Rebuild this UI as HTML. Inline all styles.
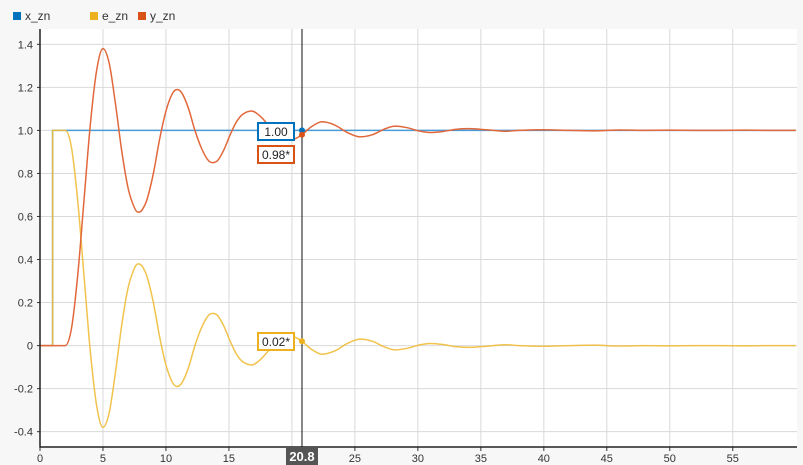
<!DOCTYPE html>
<html><head><meta charset="utf-8"><style>
body{margin:0;background:#f7f7f7;font-family:"Liberation Sans",sans-serif}
svg{display:block}
text{font-family:"Liberation Sans",sans-serif}
</style></head><body>
<svg id="c" width="803" height="465">
<rect x="0" y="0" width="803" height="465" fill="#f7f7f7"/>
<g>
 <rect x="13" y="12" width="8" height="8" fill="#0072bd"/>
 <text x="25" y="20" font-size="12" fill="#333">x_zn</text>
 <rect x="90" y="12" width="8" height="8" fill="#edb120"/>
 <text x="102" y="20" font-size="12" fill="#333">e_zn</text>
 <rect x="138" y="12" width="8" height="8" fill="#d95319"/>
 <text x="150" y="20" font-size="12" fill="#333">y_zn</text>
</g>
<rect x="40" y="29" width="757" height="418" fill="#fff"/>
<g id="grid"></g><g id="series"></g><g id="axes"></g><g id="cursor"></g>
</svg>
<script>
const tTicks=[0,5,10,15,20,25,30,35,40,45,50,55];
const yTicks=[-0.4,-0.2,0,0.2,0.4,0.6,0.8,1.0,1.2,1.4];
const xT=[0,1,1,60];
const xV=[0,0,1,1];
const yT=[0,1,2,2.5,3,3.5,4,4.5,5,5.5,6,6.5,7,7.5,7.8,8.1,8.5,9,9.5,10,10.5,10.9,11.3,11.8,12.3,12.8,13.3,13.7,14.1,14.6,15.1,15.6,16.1,16.8,17.5,18.2,18.9,19.6,20.2,20.8,21.5,22.4,23.4,24.4,25.4,26.4,27.3,28.2,29.2,30.1,31,32,33,34,35,36,37,38,40,42,44,46,48,50,52,54,56,58,60];
const yV=[0,0,0,0.08,0.33,0.68,1.03,1.28,1.38,1.31,1.12,0.9,0.73,0.64,0.62,0.63,0.68,0.8,0.96,1.09,1.17,1.19,1.17,1.1,1.0,0.92,0.865,0.85,0.86,0.91,0.98,1.04,1.075,1.09,1.065,1.02,0.975,0.955,0.96,0.98,1.015,1.04,1.025,0.99,0.97,0.98,1.005,1.02,1.012,0.997,0.99,0.995,1.005,1.008,1.005,1.0,0.996,1.0,1.003,1.0,0.998,1.002,1.0,1.001,1.0,1.0,1.001,1.0,1.0];
const eT=[0,1,1,2,2.5,3,3.5,4,4.5,5,5.5,6,6.5,7,7.5,7.8,8.1,8.5,9,9.5,10,10.5,10.9,11.3,11.8,12.3,12.8,13.3,13.7,14.1,14.6,15.1,15.6,16.1,16.8,17.5,18.2,18.9,19.6,20.2,20.8,21.5,22.4,23.4,24.4,25.4,26.4,27.3,28.2,29.2,30.1,31,32,33,34,35,36,37,38,40,42,44,46,48,50,52,54,56,58,60];
const eV=[0,0,1,1,0.92,0.67,0.32,-0.03,-0.28,-0.38,-0.31,-0.12,0.1,0.27,0.36,0.38,0.37,0.32,0.2,0.04,-0.09,-0.17,-0.19,-0.17,-0.1,0.0,0.08,0.135,0.15,0.14,0.09,0.02,-0.04,-0.075,-0.09,-0.065,-0.02,0.025,0.045,0.04,0.02,-0.015,-0.04,-0.025,0.01,0.03,0.02,-0.005,-0.02,-0.012,0.003,0.01,0.005,-0.005,-0.008,-0.005,0.0,0.004,0.0,-0.003,0.0,0.002,-0.002,0.0,-0.001,0.0,0.0,-0.001,0.0,0.0];
const cursorT=20.8;
const X=t=>40+t*(757/60.1);
const Y=v=>345.6-v*215.2;
const ns="http://www.w3.org/2000/svg";
function el(tag,attrs,parent){const e=document.createElementNS(ns,tag);for(const k in attrs)e.setAttribute(k,attrs[k]);parent.appendChild(e);return e;}
const grid=document.getElementById('grid'),axes=document.getElementById('axes'),ser=document.getElementById('series'),cur=document.getElementById('cursor');
tTicks.forEach(t=>{
 const l=el('line',{x1:X(t),x2:X(t),y1:29,y2:447,stroke:'#d9d9d9'},grid);
 
 
 const tk=el('line',{x1:X(t),x2:X(t),y1:447,y2:451,stroke:'#333'},axes);
 
 
 const tx=el('text',{x:X(t),y:462,'font-size':11,fill:'#333','text-anchor':'middle'},axes);
 tx.textContent=t;
 
 
});
yTicks.forEach(v=>{
 const l=el('line',{x1:40,x2:797,y1:Y(v),y2:Y(v),stroke:'#d9d9d9'},grid);
 
 
 const tk=el('line',{x1:37,x2:40,y1:Y(v),y2:Y(v),stroke:'#333'},axes);
 
 
 const tx=el('text',{x:33,y:Y(v)+4,'font-size':11,fill:'#333','text-anchor':'end'},axes);
 tx.textContent=(Math.abs(v)<1e-9?'0':v.toFixed(1));
 
 
});
const ax=el('path',{d:'M40 29V447H797',fill:'none',stroke:'#222','stroke-width':1.5},axes);


function smooth(ts,vs){
 const n=ts.length;const m=new Array(n).fill(0);
 for(let i=0;i<n;i++){
  const a=Math.max(i-1,0),b=Math.min(i+1,n-1);
  if(i>0&&ts[i]===ts[i-1]){m[i]=0;continue;}
  if(i<n-1&&ts[i]===ts[i+1]){m[i]=0;continue;}
  m[i]=(ts[b]>ts[a])?(vs[b]-vs[a])/(ts[b]-ts[a]):0;
  if(i>0&&i<n-1&&((vs[i]-vs[i-1])*(vs[i+1]-vs[i])<=0))m[i]=0;
 }
 let d='M'+X(ts[0])+' '+Y(vs[0]);
 for(let i=0;i<n-1;i++){
  const dt=ts[i+1]-ts[i];
  if(dt===0){d+='L'+X(ts[i+1])+' '+Y(vs[i+1]);continue;}
  const c1t=ts[i]+dt/3,c1v=vs[i]+m[i]*dt/3,c2t=ts[i+1]-dt/3,c2v=vs[i+1]-m[i+1]*dt/3;
  d+='C'+X(c1t)+' '+Y(c1v)+' '+X(c2t)+' '+Y(c2v)+' '+X(ts[i+1])+' '+Y(vs[i+1]);
 }return d;}
const px=el('path',{d:smooth(xT,xV),fill:'none',stroke:'#4a9ad6','stroke-width':1.5},ser);


const pe=el('path',{d:smooth(eT,eV),fill:'none',stroke:'#f0bc3a','stroke-width':1.5,opacity:0.9},ser);


const py=el('path',{d:smooth(yT,yV),fill:'none',stroke:'#e2673a','stroke-width':1.5},ser);


const cx=X(cursorT);
const cl=el('line',{x1:cx,x2:cx,y1:29,y2:447,stroke:'#111'},cur);


function interp(ts,vs,t){for(let i=0;i<ts.length-1;i++)if(t>=ts[i]&&t<=ts[i+1]&&ts[i+1]>ts[i])return vs[i]+(vs[i+1]-vs[i])*(t-ts[i])/(ts[i+1]-ts[i]);return vs[vs.length-1];}
const yAt=interp(yT,yV,cursorT),eAt=interp(eT,eV,cursorT);
const m1=el('circle',{cx:cx,cy:Y(1),r:3,fill:'#0072bd'},cur);


const m2=el('circle',{cx:cx,cy:Y(yAt),r:3,fill:'#d95319'},cur);


const m3=el('circle',{cx:cx,cy:Y(eAt),r:3,fill:'#edb120'},cur);


function box(y,txt,col,name){
 const g=el('g',{},cur);
 
 
 el('rect',{x:258,y:y,width:36,height:17,fill:'#fff',stroke:col,'stroke-width':2},g);
 const t=el('text',{x:276,y:y+13,'font-size':12,fill:'#222','text-anchor':'middle'},g);t.textContent=txt;
}
box(123,'1.00','#0072bd','cursor-label-x');
box(146,'0.98*','#d95319','cursor-label-y');
box(333,'0.02*','#edb120','cursor-label-e');
const tb=el('g',{},cur);


el('rect',{x:cx-16,y:447,width:32,height:18,fill:'#555'},tb);
const tt=el('text',{x:cx,y:461,'font-size':13,'font-weight':'bold',fill:'#fff','text-anchor':'middle'},tb);tt.textContent=cursorT.toFixed(1);
</script>
</body></html>
